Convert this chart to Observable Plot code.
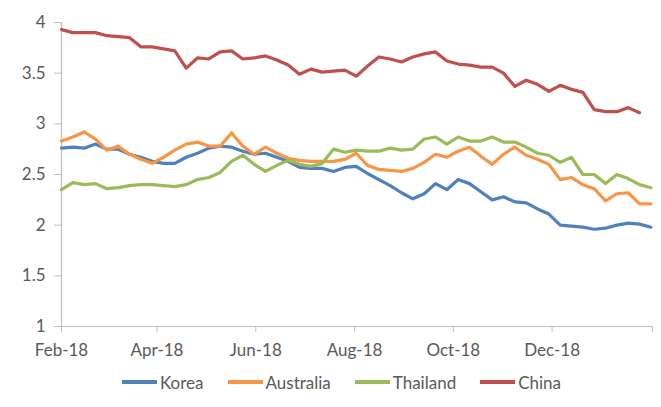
<!DOCTYPE html>
<html>
<head>
<meta charset="utf-8">
<script src="https://cdn.jsdelivr.net/npm/d3@7"></script>
<script src="https://cdn.jsdelivr.net/npm/@observablehq/plot@0.6"></script>
<style>
  html, body { margin: 0; padding: 0; background: #ffffff; overflow: hidden; }
  body { width: 661px; height: 407px; font-family: Lato, "Open Sans", sans-serif; }
  #chart svg { display: block; }
  #legend { display: flex; justify-content: center; align-items: center; gap: 24px;
            height: 40px; margin-left: 22px; color: #595959; font-size: 17px; }
  .item { display: flex; align-items: center; gap: 3px; }
  .sw { display: inline-block; width: 35px; height: 4px; }
</style>
</head>
<body>
<div id="chart"></div>
<div id="legend"></div>
<script>
// Weekly observations starting 1 Feb 2018
const startDate = "2018-02-01";
const countries = ["Korea", "Australia", "Thailand", "China"];
const colors = ["#4F81BD", "#F79646", "#9BBB59", "#C0504D"];

const korea = [2.76, 2.77, 2.76, 2.80, 2.75, 2.75, 2.70, 2.67, 2.63, 2.61, 2.61, 2.67, 2.71, 2.76, 2.78,
  2.77, 2.73, 2.70, 2.71, 2.67, 2.63, 2.57, 2.56, 2.56, 2.53, 2.57, 2.58, 2.51, 2.45, 2.39, 2.32,
  2.26, 2.31, 2.41, 2.35, 2.45, 2.41, 2.33, 2.25, 2.28, 2.23, 2.22, 2.16, 2.11, 2.00, 1.99, 1.98,
  1.96, 1.97, 2.00, 2.02, 2.01, 1.98];
const australia = [2.83, 2.87, 2.92, 2.85, 2.74, 2.78, 2.70, 2.65, 2.61, 2.67, 2.74, 2.80, 2.82, 2.78, 2.78,
  2.91, 2.78, 2.70, 2.77, 2.71, 2.66, 2.64, 2.63, 2.63, 2.63, 2.65, 2.71, 2.59, 2.55, 2.54, 2.53,
  2.56, 2.62, 2.70, 2.67, 2.73, 2.77, 2.68, 2.60, 2.70, 2.77, 2.69, 2.65, 2.60, 2.45, 2.47, 2.40,
  2.36, 2.24, 2.31, 2.32, 2.21, 2.21];
const thailand = [2.35, 2.42, 2.40, 2.41, 2.36, 2.37, 2.39, 2.40, 2.40, 2.39, 2.38, 2.40, 2.45, 2.47, 2.52,
  2.63, 2.69, 2.60, 2.53, 2.59, 2.64, 2.60, 2.58, 2.61, 2.75, 2.72, 2.74, 2.73, 2.73, 2.76, 2.74,
  2.75, 2.85, 2.87, 2.80, 2.87, 2.83, 2.83, 2.87, 2.82, 2.82, 2.77, 2.71, 2.69, 2.62, 2.67, 2.50,
  2.50, 2.41, 2.50, 2.46, 2.40, 2.37];
const china = [3.93, 3.90, 3.90, 3.90, 3.87, 3.86, 3.85, 3.76, 3.76, 3.74, 3.72, 3.55, 3.65, 3.64, 3.71,
  3.72, 3.64, 3.65, 3.67, 3.63, 3.58, 3.49, 3.54, 3.51, 3.52, 3.53, 3.47, 3.57, 3.66, 3.64, 3.61,
  3.66, 3.69, 3.71, 3.62, 3.59, 3.58, 3.56, 3.56, 3.50, 3.37, 3.43, 3.39, 3.32, 3.38, 3.34, 3.31,
  3.14, 3.12, 3.12, 3.16, 3.11];

const xTickDates = ["2018-02-01", "2018-04-01", "2018-06-01", "2018-08-01", "2018-10-01", "2018-12-01", "2019-02-01"];
const xTickLabels = ["Feb-18", "Apr-18", "Jun-18", "Aug-18", "Oct-18", "Dec-18", ""];
const yTicks = [1, 1.5, 2, 2.5, 3, 3.5, 4];

const series = [korea, australia, thailand, china];
const start = new Date(startDate);
const rows = [];
series.forEach((vals, k) => {
  vals.forEach((v, i) => rows.push({country: countries[k], date: d3.utcDay.offset(start, 7 * i), value: v}));
});

const xTicks = xTickDates.map(s => new Date(s));
const labelMap = new Map(xTicks.map((d, i) => [+d, xTickLabels[i]]));
const axisColor = "#BFBFBF";

const chart = Plot.plot({
  width: 661,
  height: 362,
  marginLeft: 61,
  marginRight: 9,
  marginTop: 22,
  marginBottom: 36,
  style: {fontFamily: "Lato, 'Open Sans', sans-serif", fontSize: "17px", color: "#595959", background: "#ffffff"},
  x: {type: "utc", domain: [xTicks[0], xTicks[xTicks.length - 1]], axis: null},
  y: {domain: [1, 4], axis: null},
  color: {domain: countries, range: colors},
  marks: [
    Plot.ruleX([xTicks[0]], {y1: 1, y2: 4, stroke: axisColor, strokeWidth: 1.2}),
    Plot.ruleY([1], {stroke: axisColor, strokeWidth: 1.2}),
    Plot.axisY(yTicks, {tickSize: 7, tickPadding: 9, stroke: axisColor, fill: "#595959",
      tickFormat: d => String(d), fontSize: 17, label: null}),
    Plot.axisX(xTicks, {tickSize: 6, tickPadding: 11, stroke: axisColor, fill: "#595959",
      tickFormat: d => labelMap.get(+d), fontSize: 17, label: null}),
    Plot.line(rows, {x: "date", y: "value", z: "country", stroke: "country",
      strokeWidth: 3.2, strokeLinejoin: "round", strokeLinecap: "round"})
  ]
});
document.getElementById("chart").appendChild(chart);

const legend = document.getElementById("legend");
countries.forEach((c, i) => {
  const item = document.createElement("div");
  item.className = "item";
  const sw = document.createElement("span");
  sw.className = "sw";
  sw.style.background = colors[i];
  const t = document.createElement("span");
  t.textContent = c;
  item.appendChild(sw);
  item.appendChild(t);
  legend.appendChild(item);
});
</script>
</body>
</html>
